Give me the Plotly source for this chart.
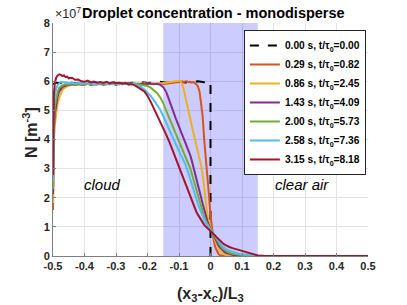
import plotly.graph_objects as go

# ---------------- data ----------------
x_grid = [-0.5, -0.499, -0.497, -0.494, -0.49, -0.485, -0.48, -0.475, -0.47, -0.465, -0.46, -0.455, -0.45,
          -0.44, -0.43, -0.42, -0.41, -0.40, -0.39, -0.38, -0.37, -0.36, -0.35, -0.34, -0.33, -0.32, -0.31,
          -0.30, -0.29, -0.28, -0.27, -0.26,
          -0.25, -0.24, -0.23, -0.22, -0.21, -0.20, -0.19, -0.18, -0.17, -0.16, -0.15, -0.14, -0.13, -0.12, -0.11,
          -0.10, -0.095, -0.09, -0.085, -0.08, -0.075, -0.07, -0.065, -0.06, -0.055, -0.05, -0.045, -0.04,
          -0.035, -0.03, -0.025, -0.02, -0.015, -0.01, -0.005, 0.0, 0.005, 0.01, 0.015, 0.02, 0.025, 0.03,
          0.035, 0.04, 0.045, 0.05,
          0.06, 0.07, 0.08, 0.09, 0.10, 0.11, 0.12, 0.13, 0.14, 0.15,
          0.17, 0.2, 0.25, 0.3, 0.35, 0.4, 0.45, 0.5]

x_t000 = [-0.5, -0.49, -0.47, -0.45, -0.42, -0.4, -0.37, -0.35, -0.32, -0.3, -0.27, -0.25, -0.22, -0.2,
          -0.18, -0.16, -0.14, -0.12, -0.1, -0.08, -0.06, -0.04, -0.02, -0.01, 0.0, 0.0, 0.5]
n_t000 = [5.9, 5.95, 5.93, 5.96, 5.92, 5.95, 5.93, 5.97, 5.94, 5.96, 5.93, 5.95, 5.97, 5.94,
          5.96, 5.98, 5.95, 5.97, 5.99, 5.96, 5.98, 6.0, 5.97, 5.99, 5.98, 0, 0]

n_t029 = [1.58, 3.6, 4.5, 5.0, 5.3, 5.55, 5.7, 5.78, 5.82, 5.85, 5.88, 5.87, 5.9,
          5.9, 5.88, 5.92, 5.9, 5.87, 5.91, 5.93, 5.89, 5.9, 5.92, 5.88, 5.91, 5.9, 5.92, 5.89, 5.9, 5.93, 5.91, 5.9,
          5.91, 5.9, 5.92, 5.89, 5.91, 5.93, 5.9, 5.92, 5.9, 5.93, 5.91, 5.92, 5.94, 5.93, 5.95,
          5.96, 5.98, 6.0, 5.97, 5.99, 6.0, 5.97, 5.98, 5.95, 5.97, 5.94, 5.9, 5.82, 5.65, 5.25, 4.8, 4.0,
          3.45, 2.8, 2.1, 1.4, 0.9, 0.55, 0.3, 0.15, 0.07, 0.03, 0.01, 0.005, 0, 0,
          0, 0, 0, 0, 0, 0, 0, 0, 0, 0,
          0, 0, 0, 0, 0, 0, 0, 0]

n_t086 = [1.82, 3.2, 4.0, 4.5, 4.9, 5.25, 5.45, 5.6, 5.7, 5.76, 5.8, 5.83, 5.85,
          5.88, 5.9, 5.87, 5.91, 5.89, 5.92, 5.88, 5.9, 5.93, 5.89, 5.91, 5.88, 5.92, 5.9, 5.89, 5.93, 5.9, 5.91, 5.92,
          5.9, 5.92, 5.89, 5.91, 5.93, 5.9, 5.92, 5.91, 5.93, 5.92, 5.94, 5.95, 5.97, 5.98, 6.0,
          6.02, 6.0, 5.9, 5.72, 5.5, 5.27, 5.0, 4.75, 4.5, 4.28, 4.05, 3.8, 3.57, 3.35, 3.12, 2.8, 2.3,
          1.8, 1.42, 1.15, 0.97, 0.83, 0.68, 0.52, 0.38, 0.26, 0.17, 0.11, 0.07, 0.04, 0.02,
          0.01, 0.005, 0, 0, 0, 0, 0, 0, 0, 0,
          0, 0, 0, 0, 0, 0, 0, 0]

n_t143 = [2.13, 3.6, 4.4, 4.9, 5.25, 5.5, 5.65, 5.75, 5.8, 5.83, 5.86, 5.87, 5.88,
          5.9, 5.87, 5.91, 5.88, 5.9, 5.92, 5.87, 5.9, 5.89, 5.92, 5.88, 5.91, 5.9, 5.93, 5.88, 5.91, 5.9, 5.92, 5.89,
          5.9, 5.91, 5.89, 5.92, 5.9, 5.91, 5.92, 5.9, 5.91, 5.88, 5.8, 5.62, 5.35, 5.02, 4.72,
          4.45, 4.3, 4.18, 4.08, 3.95, 3.8, 3.65, 3.48, 3.3, 3.1, 2.9, 2.68, 2.45, 2.22, 2.02, 1.8, 1.58,
          1.38, 1.2, 1.05, 0.93, 0.83, 0.72, 0.6, 0.48, 0.38, 0.3, 0.23, 0.17, 0.13, 0.1,
          0.06, 0.04, 0.02, 0.01, 0.005, 0, 0, 0, 0, 0,
          0, 0, 0, 0, 0, 0, 0, 0]

n_t200 = [2.3, 3.9, 4.7, 5.15, 5.45, 5.65, 5.78, 5.83, 5.86, 5.88, 5.9, 5.89, 5.9,
          5.92, 5.88, 5.9, 5.93, 5.89, 5.91, 5.88, 5.92, 5.9, 5.94, 5.89, 5.91, 5.93, 5.9, 5.92, 5.89, 5.93, 5.9, 5.92,
          5.91, 5.92, 5.9, 5.88, 5.87, 5.84, 5.78, 5.7, 5.6, 5.45, 5.25, 4.97, 4.72, 4.45, 4.2,
          3.95, 3.82, 3.7, 3.58, 3.45, 3.32, 3.2, 3.03, 2.85, 2.65, 2.45, 2.25, 2.05, 1.85, 1.67, 1.5, 1.35,
          1.2, 1.08, 0.98, 0.9, 0.83, 0.74, 0.64, 0.53, 0.44, 0.36, 0.3, 0.24, 0.2, 0.16,
          0.11, 0.08, 0.06, 0.04, 0.03, 0.02, 0.01, 0.005, 0, 0,
          0, 0, 0, 0, 0, 0, 0, 0]

n_t258 = [2.54, 4.3, 5.1, 5.5, 5.75, 5.88, 5.95, 5.98, 5.96, 5.97, 5.94, 5.96, 5.93,
          5.95, 5.92, 5.96, 5.9, 5.94, 5.91, 5.95, 5.9, 5.93, 5.92, 5.95, 5.9, 5.93, 5.91, 5.94, 5.9, 5.92, 5.93, 5.9,
          5.92, 5.9, 5.86, 5.8, 5.72, 5.62, 5.5, 5.35, 5.18, 5.03, 4.8, 4.55, 4.33, 4.05, 3.82,
          3.6, 3.48, 3.38, 3.28, 3.15, 3.0, 2.85, 2.68, 2.5, 2.32, 2.12, 1.95, 1.8, 1.65, 1.5, 1.38, 1.25,
          1.15, 1.05, 0.97, 0.9, 0.84, 0.76, 0.68, 0.58, 0.5, 0.43, 0.37, 0.32, 0.27, 0.24,
          0.18, 0.14, 0.11, 0.08, 0.06, 0.05, 0.03, 0.02, 0.01, 0.005,
          0, 0, 0, 0, 0, 0, 0, 0]

n_t315 = [2.78, 4.8, 5.6, 5.95, 6.12, 6.2, 6.24, 6.22, 6.18, 6.2, 6.14, 6.16, 6.1,
          6.12, 6.05, 6.06, 6.0, 5.98, 6.02, 5.96, 5.99, 5.95, 5.97, 5.94, 5.98, 5.93, 5.96, 5.94, 5.95, 5.92, 5.94, 5.9,
          5.9, 5.86, 5.8, 5.72, 5.65, 5.5, 5.3, 5.08, 4.82, 4.6, 4.38, 4.15, 3.9, 3.62, 3.36,
          3.05, 2.9, 2.75, 2.6, 2.47, 2.33, 2.2, 2.03, 1.9, 1.77, 1.64, 1.52, 1.42, 1.32, 1.22, 1.14, 1.07,
          1.01, 0.96, 0.91, 0.87, 0.83, 0.77, 0.7, 0.64, 0.58, 0.53, 0.47, 0.43, 0.39, 0.36,
          0.31, 0.27, 0.24, 0.21, 0.18, 0.14, 0.1, 0.07, 0.04, 0.02,
          0.01, 0.005, 0, 0, 0, 0, 0, 0]

labels = ["0.00 s, t/τ<sub>0</sub>=0.00", "0.29 s, t/τ<sub>0</sub>=0.82", "0.86 s, t/τ<sub>0</sub>=2.45",
          "1.43 s, t/τ<sub>0</sub>=4.09", "2.00 s, t/τ<sub>0</sub>=5.73", "2.58 s, t/τ<sub>0</sub>=7.36",
          "3.15 s, t/τ<sub>0</sub>=8.18"]
colors = ["#000000", "#D95319", "#EDB120", "#7E2F8E", "#77AC30", "#4DBEEE", "#A2142F"]

x_ticks = [-0.5, -0.4, -0.3, -0.2, -0.1, 0, 0.1, 0.2, 0.3, 0.4, 0.5]
x_ticktext = ["-0.5", "-0.4", "-0.3", "-0.2", "-0.1", "0", "0.1", "0.2", "0.3", "0.4", "0.5"]
y_ticks = [0, 1, 2, 3, 4, 5, 6, 7, 8]
shade_range = [-0.15, 0.15]

# ---------------- figure ----------------
FONT = "Liberation Sans, Arial, sans-serif"
TXT = "#262626"

fig = go.Figure()
fig.add_trace(go.Scatter(x=x_t000, y=n_t000, mode="lines", name=labels[0],
                         line=dict(color=colors[0], width=2, dash="dash")))
series = [n_t029, n_t086, n_t143, n_t200, n_t258, n_t315]
for i, s in enumerate(series):
    fig.add_trace(go.Scatter(x=x_grid, y=s, mode="lines", name=labels[i + 1],
                             line=dict(color=colors[i + 1], width=2)))

fig.add_shape(type="rect", xref="x", yref="y", x0=shade_range[0], x1=shade_range[1], y0=0, y1=8,
              fillcolor="rgba(0,0,255,0.2)", line=dict(width=0), layer="between")

fig.update_layout(
    width=407, height=305,
    margin=dict(l=53, r=39, t=23, b=49),
    paper_bgcolor="white", plot_bgcolor="white",
    font=dict(family=FONT, color=TXT),
    showlegend=True,
    legend=dict(x=0.606, y=0.97, xanchor="left", yanchor="top",
                bgcolor="white", bordercolor=TXT, borderwidth=1,
                font=dict(size=10.2, family=FONT, color="#000000", weight="bold"),
                itemwidth=30, tracegroupgap=0),
    xaxis=dict(range=[-0.5, 0.5], tickvals=x_ticks, ticktext=x_ticktext,
               showgrid=True, gridcolor="#e3e3e3", gridwidth=1,
               showline=True, linecolor="#7f7f7f", linewidth=1, mirror=False,
               ticks="inside", ticklen=3, tickcolor="#7f7f7f",
               tickfont=dict(size=11, family=FONT, color=TXT, weight="bold"),
               zeroline=False),
    yaxis=dict(range=[0, 8], tickvals=y_ticks,
               showgrid=True, gridcolor="#e3e3e3", gridwidth=1,
               showline=True, linecolor="#7f7f7f", linewidth=1, mirror=False,
               ticks="inside", ticklen=3, tickcolor="#7f7f7f",
               tickfont=dict(size=11, family=FONT, color=TXT, weight="bold"),
               zeroline=False),
)

ann = [
    dict(text="×10<sup>7</sup>", xref="paper", yref="paper", x=0.0, y=1.0, xanchor="left", yanchor="bottom",
         showarrow=False, font=dict(size=12.5, family=FONT, color=TXT)),
    dict(text="<b>Droplet concentration - monodisperse</b>", xref="paper", yref="paper", x=0.51, y=1.043,
         xanchor="center", yanchor="middle", showarrow=False, font=dict(size=14.5, family=FONT, color="#000000")),
    dict(text="<b>(x<sub>3</sub>-x<sub>c</sub>)/L<sub>3</sub></b>", xref="paper", yref="paper", x=0.5, y=-0.165,
         xanchor="center", yanchor="middle", showarrow=False, font=dict(size=16, family=FONT, color=TXT)),
    dict(text="<b>N [m<sup>-3</sup>]</b>", xref="paper", yref="paper", x=-0.073, y=0.528,
         xanchor="center", yanchor="middle", textangle=-90, showarrow=False,
         font=dict(size=16, family=FONT, color=TXT)),
    dict(text="<i>cloud</i>", xref="x", yref="y", x=-0.342, y=2.47, showarrow=False,
         font=dict(size=15, family=FONT, color="#000000")),
    dict(text="<i>clear air</i>", xref="x", yref="y", x=0.29, y=2.47, showarrow=False,
         font=dict(size=15, family=FONT, color="#000000")),
]
fig.update_layout(annotations=ann)

fig.write_html("out.html", config={"displayModeBar": False},
               post_script="document.body.style.margin='0';")
